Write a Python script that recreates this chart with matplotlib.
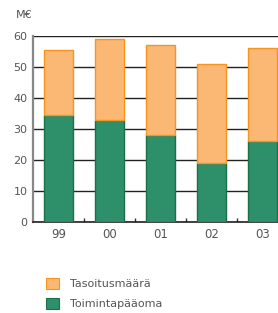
import matplotlib
matplotlib.use("Agg")
import matplotlib.pyplot as plt
from matplotlib.patches import Rectangle
import numpy as np

years = ["99", "00", "01", "02", "03"]
toimintapaaoma = [34.5, 33, 28, 19, 26]
tasoitusmaara = [21, 26, 29, 32, 30]
yticks = [0, 10, 20, 30, 40, 50, 60]

W, H = 278, 313
fig = plt.figure(figsize=(W / 100, H / 100), dpi=100)
plt.rcParams['font.family'] = ['DejaVu Sans']

left, right, top, bottom = 33, 288, 36, 222
ax = fig.add_axes([left / W, (H - bottom) / H, (right - left) / W, (bottom - top) / H])

green_fc, green_ec = "#2e8f6b", "#1b7048"
orange_fc, orange_ec = "#fbb774", "#f7941d"
txt = "#555555"

x = np.arange(len(years))
ax.bar(x, toimintapaaoma, width=0.57, color=green_fc, edgecolor=green_ec, linewidth=1, zorder=3)
ax.bar(x, tasoitusmaara, bottom=toimintapaaoma, width=0.57, color=orange_fc, edgecolor=orange_ec,
       linewidth=1, zorder=3)

ax.set_xlim(-0.5, 4.5)
ax.set_ylim(0, 60)
ax.set_yticks(yticks)
ax.set_yticklabels([str(v) for v in yticks], color=txt, fontsize=8)
ax.set_xticks(x)
ax.set_xticklabels(years, color=txt, fontsize=8.5)
ax.tick_params(axis='both', length=0, pad=4)
ax.set_xticks(x[:-1] + 0.5, minor=True)
ax.tick_params(axis='x', which='minor', direction='in', length=3, width=1, color="#333333")
ax.yaxis.grid(True, color="#222222", linewidth=1, zorder=0)
ax.set_axisbelow(True)
for s in ["top", "right"]:
    ax.spines[s].set_visible(False)
ax.spines["left"].set_color("#888888")
ax.spines["left"].set_linewidth(1.6)
ax.spines["bottom"].set_color("#222222")
ax.spines["bottom"].set_linewidth(1.2)

fig.text(16 / W, 1 - 15 / H, "M€", color=txt, fontsize=8, va="center", ha="left")

# legend
items = [("Tasoitusmäärä", orange_fc, orange_ec, 278), ("Toimintapääoma", green_fc, green_ec, 298)]
for label, fc, ec, ytop in items:
    fig.patches.append(Rectangle((46 / W, 1 - (ytop + 11) / H), 13 / W, 11 / H, transform=fig.transFigure,
                                 facecolor=fc, edgecolor=ec, linewidth=0.8))
    fig.text(70 / W, 1 - (ytop + 6) / H, label, color=txt, fontsize=8, va="center", ha="left")

fig.savefig("out.png", dpi=100)
